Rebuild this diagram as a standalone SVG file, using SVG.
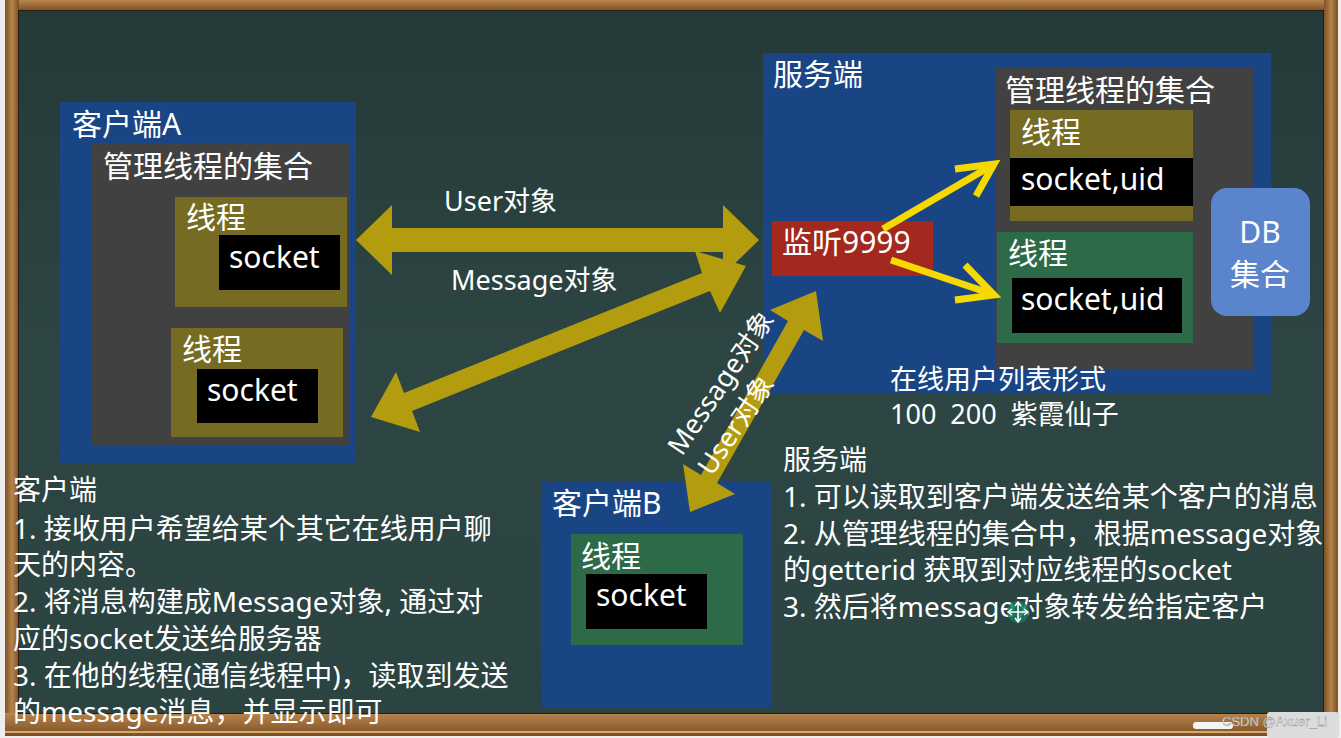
<svg xmlns="http://www.w3.org/2000/svg" width="1341" height="738" viewBox="0 0 1341 738">
<defs>
<style>
.t{font-family:"Noto Sans","Noto Sans CJK SC",sans-serif;fill:#ffffff}
.f30{font-size:30px}
.f28{font-size:28px}
.f27{font-size:27px}
.blue{fill:#1a4584}
.gray{fill:#414141}
.olive{fill:#766b22}
.green{fill:#2c6a48}
.blk{fill:#000000}
.big{fill:#b39d0e}
.thin{fill:none;stroke:#f6d900;stroke-width:7;stroke-linejoin:miter;stroke-linecap:butt}
</style>
<linearGradient id="board" x1="0" y1="0" x2="0" y2="1">
<stop offset="0" stop-color="#243a39"/>
<stop offset="0.5" stop-color="#2d4543"/>
<stop offset="1" stop-color="#2b4341"/>
</linearGradient>
<linearGradient id="woodH" x1="0" y1="0" x2="0" y2="1">
<stop offset="0" stop-color="#b9854c"/>
<stop offset="1" stop-color="#7a4f25"/>
</linearGradient>
<linearGradient id="woodV" x1="0" y1="0" x2="1" y2="0">
<stop offset="0" stop-color="#7e5127"/>
<stop offset="0.5" stop-color="#b7844c"/>
<stop offset="1" stop-color="#7a4e24"/>
</linearGradient>
</defs>

<g id="frame">
<rect x="0" y="0" width="1341" height="738" fill="#eeeeee"/>
<rect x="5" y="0" width="1333" height="736" fill="#9a6a38"/>
<rect x="5" y="0" width="1333" height="11" fill="url(#woodH)"/>
<rect x="5" y="0" width="14" height="736" fill="url(#woodV)"/>
<rect x="1324" y="0" width="14" height="736" fill="url(#woodV)"/>
<rect x="5" y="713" width="1333" height="23" fill="url(#woodH)"/>
<rect x="5" y="731" width="1333" height="2" fill="#d8a86a"/>
<rect x="18" y="10" width="1306" height="704" fill="#2a1d10"/>
<rect x="19" y="11" width="1304" height="702" fill="url(#board)"/>
</g>

<g id="clientA">
<rect class="blue" x="60" y="102" width="296" height="361"/>
<text class="t f30" x="72" y="135">客户端A</text>
<rect class="gray" x="92" y="143" width="258" height="303"/>
<text class="t f30" x="103" y="177">管理线程的集合</text>
<g id="clientA-thread1">
<rect class="olive" x="175" y="197" width="172" height="110"/>
<text class="t f30" x="186" y="228">线程</text>
<rect class="blk" x="219" y="235" width="121" height="55"/>
<text class="t f30" x="229" y="268">socket</text>
</g>
<g id="clientA-thread2">
<rect class="olive" x="171" y="328" width="172" height="109"/>
<text class="t f30" x="182" y="360">线程</text>
<rect class="blk" x="197" y="369" width="121" height="54"/>
<text class="t f30" x="207" y="401">socket</text>
</g>
</g>

<g id="server">
<rect class="blue" x="763" y="53" width="508" height="340"/>
<text class="t f30" x="773" y="85">服务端</text>
<rect class="gray" x="995" y="68" width="258" height="302"/>
<text class="t f30" x="1005" y="101">管理线程的集合</text>
<g id="server-thread1">
<rect class="olive" x="1010" y="110" width="183" height="111"/>
<text class="t f30" x="1021" y="143">线程</text>
<rect class="blk" x="1010" y="158" width="183" height="48"/>
<text class="t f30" x="1021" y="190">socket,uid</text>
</g>
<g id="server-thread2">
<rect class="green" x="997" y="232" width="196" height="111"/>
<text class="t f30" x="1008" y="264">线程</text>
<rect class="blk" x="1012" y="278" width="170" height="55"/>
<text class="t f30" x="1021" y="310">socket,uid</text>
</g>
<g id="listen">
<rect x="772" y="221" width="161" height="55" fill="#a3281d"/>
<text class="t f30" x="782" y="253">监听9999</text>
</g>
<text class="t f27" x="890" y="389">在线用户列表形式</text>
</g>

<g id="db">
<rect x="1211" y="188" width="99" height="128" rx="16" fill="#5a84cb"/>
<text class="t f30" x="1260" y="243" text-anchor="middle">DB</text>
<text class="t f30" x="1260" y="285" text-anchor="middle">集合</text>
</g>

<text class="t f27" x="890" y="424" style="white-space:pre">100  200  紫霞仙子</text>

<g id="clientB">
<rect class="blue" x="542" y="481" width="230" height="226"/>
<text class="t f30" x="552" y="514">客户端B</text>
<rect class="green" x="571" y="534" width="172" height="111"/>
<text class="t f30" x="581" y="567">线程</text>
<rect class="blk" x="586" y="574" width="121" height="55"/>
<text class="t f30" x="596" y="606">socket</text>
</g>

<g id="connectors">
<polygon class="big" points="356,240 392,205 392,228 723,228 723,205 759,240 723,275 723,252 392,252 392,275"/>
<polygon class="big" points="371,417 420,432 412,411 710,291 720,313 746,266 695,251 702,273 404,393 396,372"/>
<polygon class="big" points="690,512 735,494 717,483 804,330 823,341 816,291 770,310 788,321 701,475 683,464"/>
<path class="thin" d="M883,229 L991,166"/>
<path class="thin" d="M955,169 L994,164 L976,196"/>
<path class="thin" d="M891,260 L992,294"/>
<path class="thin" d="M965,265 L994,295 L955,300"/>
</g>

<g id="labels">
<text class="t f27" x="444" y="211">User对象</text>
<text class="t f27" x="451" y="290">Message对象</text>
<text class="t f27" transform="translate(682,457) rotate(-56)">Message对象</text>
<text class="t f27" fill="#f3eed0" transform="translate(712,477) rotate(-56)">User对象</text>
</g>

<g id="client-notes">
<text class="t f28" x="13" y="500">客户端</text>
<text class="t f28" x="13" y="539">1. 接收用户希望给某个其它在线用户聊</text>
<text class="t f28" x="13" y="575">天的内容。</text>
<text class="t f28" x="13" y="612">2. 将消息构建成Message对象, 通过对</text>
<text class="t f28" x="13" y="649">应的socket发送给服务器</text>
<text class="t f28" x="13" y="686">3. 在他的线程(通信线程中)，读取到发送</text>
<text class="t f28" x="13" y="722">的message消息，并显示即可</text>
</g>

<g id="server-notes">
<text class="t f28" x="783" y="470">服务端</text>
<text class="t f28" x="783" y="507">1. 可以读取到客户端发送给某个客户的消息</text>
<text class="t f28" x="783" y="544">2. 从管理线程的集合中，根据message对象</text>
<text class="t f28" x="783" y="580">的getterid 获取到对应线程的socket</text>
<text class="t f28" x="783" y="617">3. 然后将message对象转发给指定客户</text>
</g>

<g id="cursor">
<circle cx="1018" cy="612" r="11" fill="#137a5c" opacity="0.85"/>
<path d="M1018,603 L1018,621 M1009,612 L1027,612" stroke="#ffffff" stroke-width="1.6"/>
<path d="M1015,606 L1018,602 L1021,606 M1015,618 L1018,622 L1021,618 M1012,609 L1008,612 L1012,615 M1024,609 L1028,612 L1024,615" fill="none" stroke="#ffffff" stroke-width="1.4"/>
</g>

<g id="watermark">
<rect x="1267" y="712" width="72" height="26" rx="3" fill="#dcdcdc"/>
<rect x="1193" y="722" width="40" height="7" rx="3" fill="#f4f4f4"/>
<text x="1222" y="726" font-family="Liberation Sans, sans-serif" font-size="13" fill="#f0f0f0" stroke="#777777" stroke-width="0.3">CSDN @Axuer_Li</text>
</g>
</svg>
